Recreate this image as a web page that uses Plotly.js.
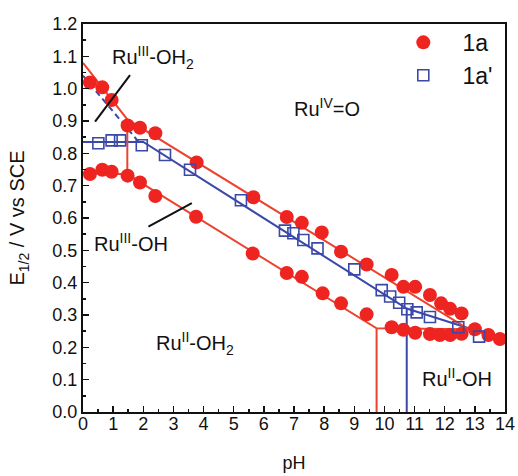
<!DOCTYPE html>
<html>
<head>
<meta charset="utf-8">
<script src="https://cdn.plot.ly/plotly-3.0.1.min.js"></script>
<style>html,body{margin:0;padding:0;background:#fff;}#chart{width:518px;height:476px;}</style>
</head>
<body>
<div id="chart"></div>
<script>
// ---- data ----
// 1a, upper couple
const pH_1a_upper = [0.23, 0.64, 0.95, 1.48, 1.89, 2.40, 3.77, 5.65, 6.76, 7.26, 7.92, 8.56, 9.41, 10.24, 10.63, 11.02, 11.51, 11.88, 12.18, 12.56];
const E_1a_upper  = [1.019, 1.004, 0.965, 0.886, 0.879, 0.862, 0.772, 0.664, 0.603, 0.585, 0.555, 0.496, 0.456, 0.424, 0.387, 0.387, 0.362, 0.336, 0.319, 0.305];
// 1a, lower couple
const pH_1a_lower = [0.23, 0.64, 0.95, 1.48, 1.89, 2.40, 3.75, 5.63, 6.76, 7.26, 7.95, 8.56, 9.41, 10.24, 10.63, 11.02, 11.51, 11.84, 12.18, 12.56, 13.00, 13.45, 13.83];
const E_1a_lower  = [0.736, 0.749, 0.743, 0.731, 0.710, 0.668, 0.604, 0.490, 0.430, 0.418, 0.367, 0.336, 0.302, 0.262, 0.254, 0.245, 0.241, 0.238, 0.238, 0.242, 0.256, 0.238, 0.226];
// 1a'
const pH_1ap = [0.51, 0.95, 1.23, 1.95, 2.72, 3.55, 5.24, 6.70, 6.98, 7.31, 7.78, 9.00, 9.91, 10.19, 10.49, 10.76, 11.07, 11.51, 12.45, 13.14];
const E_1ap  = [0.831, 0.840, 0.840, 0.825, 0.795, 0.749, 0.655, 0.561, 0.553, 0.532, 0.506, 0.441, 0.377, 0.357, 0.338, 0.318, 0.308, 0.294, 0.262, 0.233];

// Pourbaix fit lines
const fitRedUpperX = [0, 1.47, 12.8, 14];
const fitRedUpperY = [1.08, 0.905, 0.256, 0.223];
const fitRedLowerX = [0, 1.47, 9.74, 12.8];
const fitRedLowerY = [0.74, 0.735, 0.259, 0.256];
const fitRedPka1X = [1.47, 1.47];
const fitRedPka1Y = [0.905, 0.735];
const fitRedPka2X = [9.74, 9.74];
const fitRedPka2Y = [0.259, 0];
const fitBlueX = [0, 2.0, 10.74, 14];
const fitBlueY = [0.835, 0.835, 0.32, 0.223];
const fitBluePkaX = [10.74, 10.74];
const fitBluePkaY = [0.32, 0];
const fitBlueDashX = [0, 1.85];
const fitBlueDashY = [1.04, 0.835];

const xTicks = [0,1,2,3,4,5,6,7,8,9,10,11,12,13,14];
const seriesNames = ['1a', "1a'"];

const RED = '#ee2420';
const REDLINE = '#ec4330';
const BLUE = '#3a48a8';
const FONT = 'Liberation Sans, Arial, sans-serif';
const PAD = '\u00a0\u00a0\u00a0';

function line(x, y, color, dash) {
  return {x: x, y: y, mode: 'lines', showlegend: false, hoverinfo: 'skip',
          line: {color: color, width: 2, dash: dash || 'solid'}};
}

const traces = [
  line(fitBlueDashX, fitBlueDashY, BLUE, '6px,4px'),
  line(fitBlueX, fitBlueY, BLUE),
  line(fitBluePkaX, fitBluePkaY, BLUE),
  line(fitRedUpperX, fitRedUpperY, REDLINE),
  line(fitRedLowerX, fitRedLowerY, REDLINE),
  line(fitRedPka1X, fitRedPka1Y, REDLINE),
  line(fitRedPka2X, fitRedPka2Y, REDLINE),
  {x: pH_1a_upper, y: E_1a_upper, mode: 'markers', name: PAD + seriesNames[0], legendgroup: 'a',
   marker: {symbol: 'circle', size: 14, color: RED}, cliponaxis: false},
  {x: pH_1a_lower, y: E_1a_lower, mode: 'markers', name: PAD + seriesNames[0], legendgroup: 'a', showlegend: false,
   marker: {symbol: 'circle', size: 14, color: RED}, cliponaxis: false},
  {x: pH_1ap, y: E_1ap, mode: 'markers', name: PAD + seriesNames[1],
   marker: {symbol: 'square-open', size: 11, color: BLUE, line: {width: 1.6, color: BLUE}}, cliponaxis: false}
];

function lbl(x, y, text) {
  return {x: x, y: y, xref: 'x', yref: 'y', text: text, showarrow: false,
          font: {family: FONT, size: 20, color: '#111'}};
}

const layout = {
  width: 518, height: 476,
  margin: {l: 83, r: 13, t: 24, b: 64},
  paper_bgcolor: '#fff', plot_bgcolor: '#fff',
  font: {family: FONT, color: '#111'},
  xaxis: {
    range: [0, 14], tickvals: xTicks, ticktext: xTicks.map(String),
    ticks: 'inside', ticklen: 6, tickwidth: 1.5, tickcolor: '#111',
    minor: {ticks: 'inside', ticklen: 3, tickwidth: 1.5, dtick: 0.5, tickcolor: '#111'},
    showline: true, linewidth: 2, linecolor: '#111', mirror: true,
    showgrid: false, zeroline: false, ticklabelstandoff: -6,
    tickfont: {family: FONT, size: 18, color: '#111'},
    title: {text: 'pH', font: {family: FONT, size: 18, color: '#111'}, standoff: 24}
  },
  yaxis: {
    range: [0, 1.2], dtick: 0.1, tick0: 0, tickformat: '.1f',
    ticks: 'inside', ticklen: 6, tickwidth: 1.5, tickcolor: '#111',
    minor: {ticks: 'inside', ticklen: 3, tickwidth: 1.5, dtick: 0.05, tickcolor: '#111'},
    showline: true, linewidth: 2, linecolor: '#111', mirror: true,
    showgrid: false, zeroline: false,
    tickfont: {family: FONT, size: 18, color: '#111'},
    title: {text: 'E<sub>1/2</sub> / V vs SCE', font: {family: FONT, size: 20, color: '#111'}, standoff: 22}
  },
  legend: {x: 0.759, y: 1.008, xanchor: 'left', yanchor: 'top', bgcolor: 'rgba(0,0,0,0)',
           font: {family: FONT, size: 23, color: '#111'}, tracegroupgap: 0, itemwidth: 30},
  shapes: [
    {type: 'line', xref: 'x', yref: 'y', x0: 1.56, y0: 1.042, x1: 0.40, y1: 0.898, line: {color: '#111', width: 2}},
    {type: 'line', xref: 'x', yref: 'y', x0: 3.61, y0: 0.646, x1: 2.17, y1: 0.573, line: {color: '#111', width: 2}}
  ],
  annotations: [
    lbl(2.32, 1.095, 'Ru<sup>III</sup>-OH<sub>2</sub>'),
    lbl(1.59, 0.523, 'Ru<sup>III</sup>-OH'),
    lbl(8.11, 0.943, 'Ru<sup>IV</sup>=O'),
    lbl(3.72, 0.213, 'Ru<sup>II</sup>-OH<sub>2</sub>'),
    lbl(12.40, 0.108, 'Ru<sup>II</sup>-OH')
  ]
};

Plotly.newPlot('chart', traces, layout, {displayModeBar: false, staticPlot: true});
</script>
</body>
</html>
